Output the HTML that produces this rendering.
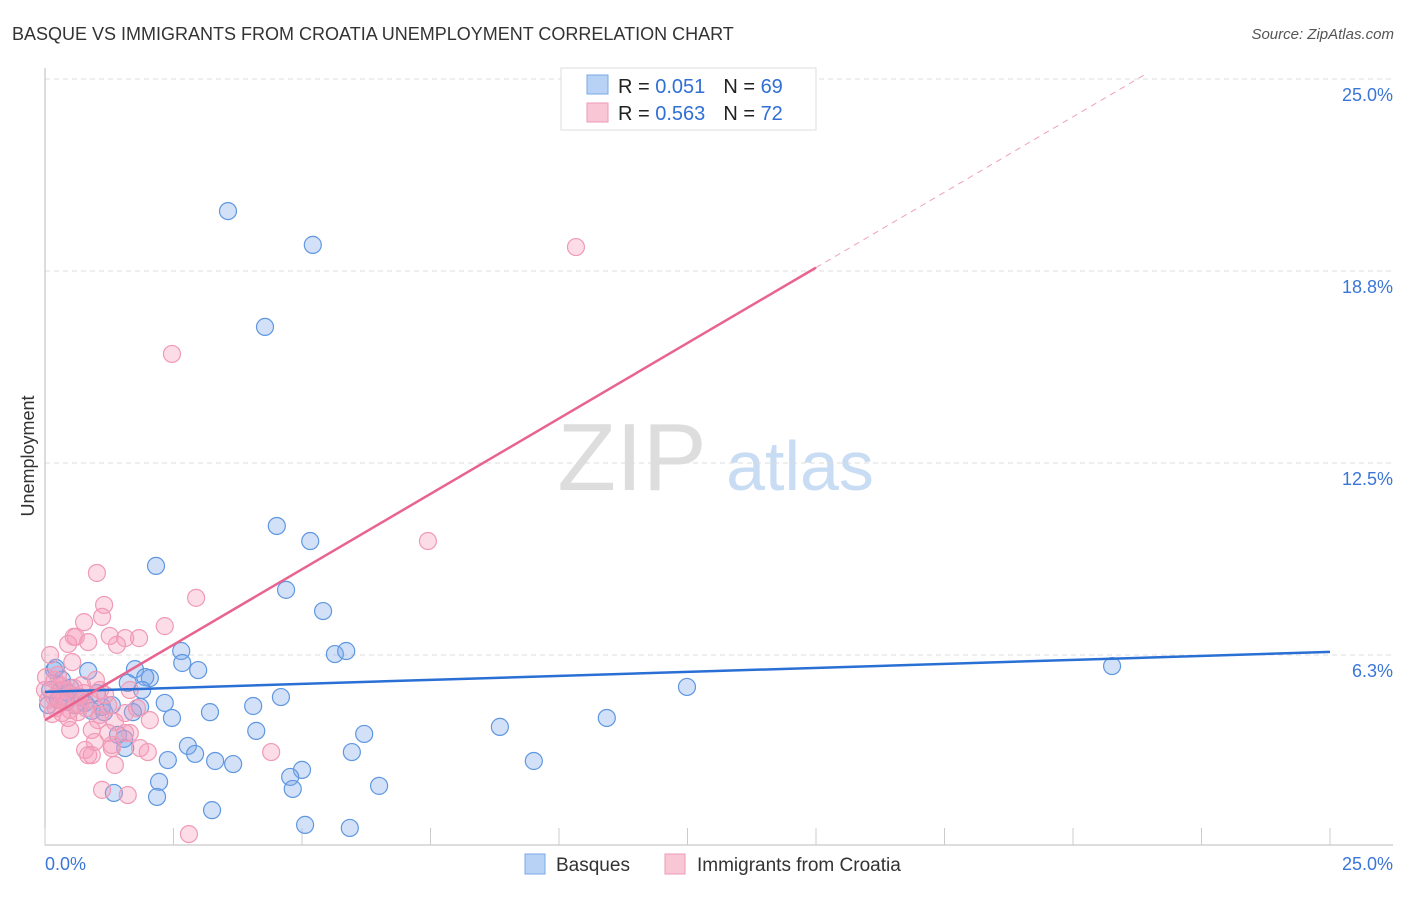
<!DOCTYPE html>
<html><head><meta charset="utf-8"><style>
body{margin:0;background:#fff;font-family:"Liberation Sans",sans-serif;}
svg text{font-family:"Liberation Sans",sans-serif;}
</style></head><body>
<svg id="chart" width="1406" height="892">
<text x="12" y="40" font-size="18" fill="#333">BASQUE VS IMMIGRANTS FROM CROATIA UNEMPLOYMENT CORRELATION CHART</text>
<text x="1394" y="39" font-size="15" fill="#555" font-style="italic" text-anchor="end">Source: ZipAtlas.com</text>
<text transform="translate(34,456) rotate(-90)" font-size="18" fill="#333" text-anchor="middle">Unemployment</text>
<g>
<text x="632" y="490" font-size="96" fill="#ddd" font-family="Liberation Serif" text-anchor="middle">ZIP</text>
<text x="800" y="490" font-size="70" fill="#c8dcf3" text-anchor="middle">atlas</text>
</g>
<g id="grid"></g><g id="axes"></g><g id="pts"></g><g id="lines"></g>
<g>
<rect x="561" y="68" width="255" height="62" fill="#fff" stroke="#ddd"/>
<rect x="587" y="75" width="21" height="19" fill="#b8d2f5" stroke="#7aa8e6"/>
<text x="618" y="93" font-size="20" fill="#222">R = <tspan fill="#2f6fd6">0.051</tspan><tspan dx="18">N = </tspan><tspan fill="#2f6fd6">69</tspan></text>
<rect x="587" y="103" width="21" height="19" fill="#f9c6d6" stroke="#ee9ab6"/>
<text x="618" y="120" font-size="20" fill="#222">R = <tspan fill="#2f6fd6">0.563</tspan><tspan dx="18">N = </tspan><tspan fill="#2f6fd6">72</tspan></text>
</g>
<g>
<rect x="525" y="854" width="20" height="20" fill="#b8d2f5" stroke="#7aa8e6"/>
<text x="556" y="871" font-size="19" fill="#333">Basques</text>
<rect x="665" y="854" width="20" height="20" fill="#f9c6d6" stroke="#ee9ab6"/>
<text x="697" y="871" font-size="19" fill="#333">Immigrants from Croatia</text>
</g>
</svg>
<script>
const yTicks=[6.25,12.5,18.75,25];
const yTickLabels=["6.3%","12.5%","18.8%","25.0%"];
const xTickLabels=["0.0%","25.0%"];
const basqueX=[3.56,5.21,4.28,4.51,5.16,2.16,4.69,5.41,2.65,5.64,5.86,2.67,2.98,1.75,0.84,2.04,1.95,1.61,1.89,20.76,12.49,1.01,4.59,2.33,1.85,4.05,1.11,1.71,3.21,2.47,10.93,8.85,4.11,6.21,1.42,1.54,2.78,5.97,1.56,2.92,2.39,3.31,3.66,9.51,5.00,4.77,2.22,6.50,4.82,1.34,2.18,3.25,5.06,5.93,0.18,0.10,0.25,0.45,0.58,0.78,0.91,1.15,0.33,0.06,0.68,0.49,1.30,0.21,0.41];
const basqueY=[20.70,19.60,16.93,10.45,9.96,9.15,8.37,7.68,6.38,6.28,6.38,5.99,5.76,5.79,5.73,5.50,5.53,5.34,5.11,5.89,5.21,5.01,4.88,4.69,4.56,4.59,4.56,4.39,4.39,4.20,4.20,3.91,3.78,3.68,3.65,3.52,3.29,3.09,3.22,3.03,2.83,2.80,2.70,2.80,2.51,2.28,2.12,1.99,1.89,1.76,1.63,1.20,0.72,0.62,5.76,5.11,4.79,5.01,4.62,4.69,4.43,4.39,5.44,4.62,4.88,5.18,4.62,5.83,4.72];
const croX=[10.33,2.47,7.45,1.01,2.94,1.15,2.33,1.11,0.76,1.83,1.26,1.56,1.40,0.56,0.60,0.84,0.45,0.53,0.10,0.19,0.29,0.37,0.49,0.64,0.80,1.07,1.23,1.56,1.79,1.65,1.07,0.88,0.76,0.21,0.06,0.14,0.45,0.68,1.36,0.91,0.49,1.23,1.56,1.65,0.97,1.85,2.00,1.30,0.78,0.91,1.36,1.11,1.61,4.40,2.80,0.41,0.56,0.00,0.02,0.33,0.60,0.18,0.33,1.03,1.30,0.84,2.04,1.17,0.72,0.99,0.25,0.29];
const croY=[19.53,16.05,9.96,8.92,8.11,7.88,7.19,7.49,7.32,6.80,6.87,6.80,6.58,6.84,6.84,6.67,6.61,6.02,6.25,5.44,5.11,4.79,4.46,4.39,4.52,4.30,4.62,4.36,4.52,5.11,5.11,4.79,5.01,4.52,4.79,4.33,4.20,4.62,4.07,3.81,3.81,3.71,3.71,3.71,3.42,3.22,3.09,3.22,3.16,2.99,2.67,1.86,1.69,3.09,0.42,5.11,5.18,5.11,5.53,5.24,4.92,4.88,4.36,4.13,3.32,2.99,4.13,4.95,5.27,5.44,5.60,4.79];
const basqueTrend=[5.05,6.35];
const croTrend=[4.13,0.982];
const NS="http://www.w3.org/2000/svg";
const xs=v=>45+v*51.4, ys=v=>847-v*30.72;
function mk(parent,tag,attrs){const e=document.createElementNS(NS,tag);for(const k in attrs)e.setAttribute(k,attrs[k]);document.getElementById(parent).appendChild(e);return e;}
yTicks.forEach((t,i)=>{
 const g=mk('grid','line',{x1:45,x2:1393,y1:ys(t),y2:ys(t),stroke:'#ddd','stroke-dasharray':'5,4'});
 
 
 const l=mk('axes','text',{x:1393,y:ys(t)+22,'font-size':18,fill:'#3a76d8','text-anchor':'end'});l.textContent=yTickLabels[i];
 
 
});
const ax=mk('axes','path',{d:'M45,68 V845 H1393',stroke:'#bbb',fill:'none'});


for(let i=0;i<=10;i++){const t=mk('axes','line',{x1:xs(i*2.5),x2:xs(i*2.5),y1:828,y2:845,stroke:'#ccc'});
 
 }
[[0,'start',45],[25,'end',1393]].forEach((a,i)=>{const l=mk('axes','text',{x:a[2],y:870,'font-size':18,fill:'#3a76d8','text-anchor':a[1]});l.textContent=xTickLabels[i];
 
 });
basqueX.forEach((x,i)=>{const c=mk('pts','circle',{cx:xs(x),cy:ys(basqueY[i]),r:8.5,fill:'rgba(125,170,235,0.35)',stroke:'#5f97e0','stroke-width':1.2});
 
 });
croX.forEach((x,i)=>{const c=mk('pts','circle',{cx:xs(x),cy:ys(croY[i]),r:8.5,fill:'rgba(245,155,185,0.35)',stroke:'#f09ab5','stroke-width':1.2});
 
 });
const bl=mk('lines','line',{x1:xs(0),y1:ys(basqueTrend[0]),x2:xs(25),y2:ys(basqueTrend[1]),stroke:'#2a6fd4','stroke-width':2.5});


const cy=x=>croTrend[0]+croTrend[1]*x;
const cl=mk('lines','line',{x1:xs(0),y1:ys(cy(0)),x2:xs(15),y2:ys(cy(15)),stroke:'#e8648f','stroke-width':2.5});


const xe=(25.2-croTrend[0])/croTrend[1];
const cd=mk('lines','line',{x1:xs(15),y1:ys(cy(15)),x2:xs(xe),y2:ys(cy(xe)),stroke:'#efa0b8','stroke-width':1,'stroke-dasharray':'6,5'});


</script>
</body></html>
